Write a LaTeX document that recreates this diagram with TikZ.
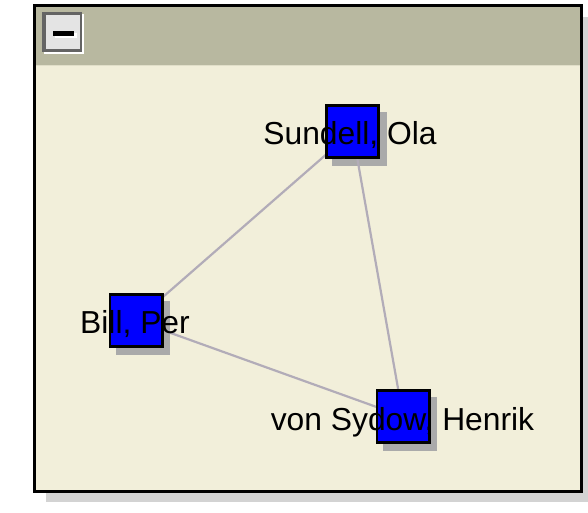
\documentclass[tikz,border=0pt]{standalone}
\usepackage{fontspec}
\setmainfont{Liberation Sans}
\pgfdeclarelayer{windowl}
\pgfdeclarelayer{shadowl}
\pgfdeclarelayer{edgel}
\pgfsetlayers{windowl,shadowl,edgel,main}
\definecolor{bodycol}{RGB}{242,239,218}
\definecolor{headcol}{RGB}{184,184,160}
\definecolor{outshadow}{RGB}{211,211,211}
\definecolor{nodeshadow}{RGB}{170,170,170}
\definecolor{edgecol}{RGB}{178,172,184}
\definecolor{btnface}{RGB}{228,228,228}
\definecolor{btndark}{RGB}{100,100,100}
\definecolor{nodeblue}{RGB}{0,0,255}
\tikzset{
  person/.style={draw=black, line width=2.6pt, fill=nodeblue, minimum size=52.4pt, inner sep=0pt, outer sep=0pt},
  personlabel/.style={anchor=base, inner sep=0pt, font=\fontsize{31.8}{36}\selectfont, text=black},
  link/.style={draw=edgecol, line width=2.2pt},
}
\begin{document}
\begin{tikzpicture}[x=1pt,y=-1pt]
\useasboundingbox (0,0) rectangle (588,513);
\begin{pgfonlayer}{windowl}
% window shadow and frame
\fill[outshadow] (46,17) rectangle (600,502);
\filldraw[fill=bodycol, draw=black, line width=3pt] (34.5,5.5) rectangle (581.5,491.5);
\fill[headcol] (36,7) rectangle (580,65);
\fill[bodycol!70!headcol] (36,65) rectangle (580,66);
% collapse button
\fill[white] (44,14) rectangle (84,54);
\fill[btndark] (42,12) rectangle (82,52);
\fill[btnface] (45.5,15.5) rectangle (79.5,49);
\fill[white] (55,33) rectangle (77,38.5);
\fill[black] (53,31) rectangle (74,36);
\end{pgfonlayer}
% person squares
\node[person] (sundell) at (352.5,131.5) {};
\node[person] (bill) at (136,320.5) {};
\node[person] (sydow) at (403,416.5) {};
% shadows
\begin{pgfonlayer}{shadowl}
  \foreach \n in {sundell,bill,sydow}{
    \fill[nodeshadow] ([shift={(6,6.5)}]\n.north west) rectangle ([shift={(8,8.5)}]\n.south east);
  }
\end{pgfonlayer}
% links
\begin{pgfonlayer}{edgel}
  \draw[link] (sundell.center) -- (bill.center);
  \draw[link] (sundell.center) -- (sydow.center);
  \draw[link] (bill.center) -- (sydow.center);
\end{pgfonlayer}
% labels
\node[personlabel] (tsundell) at (350,144.5) {Sundell, Ola};
\node[personlabel] (tbill) at (135,333) {Bill, Per};
\node[personlabel] (tsydow) at (402.5,430) {von Sydow, Henrik};
\end{tikzpicture}
\end{document}
